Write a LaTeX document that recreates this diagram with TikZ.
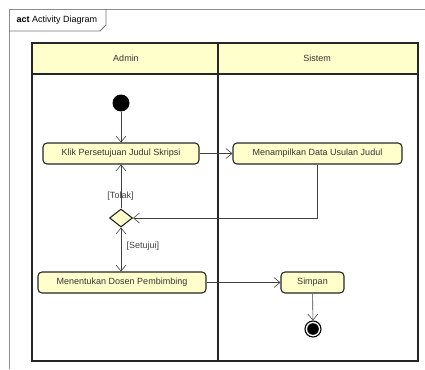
\documentclass[tikz,border=0pt]{standalone}
\usepackage{fontspec}
\setmainfont{Liberation Sans}
\usepackage{tikz}
\usetikzlibrary{arrows.meta,shapes.geometric,positioning}
\definecolor{umlyellow}{HTML}{FFFFCC}
\tikzset{
  action/.style   = {shape=rectangle, rounded corners=4pt,
                     draw=black!85, line width=1.1pt, fill=umlyellow,
                     minimum height=21pt, inner sep=0pt,
                     text=black!80, font=\fontsize{9}{10}\selectfont},
  decision/.style = {diamond, draw=black!85, line width=1.1pt, fill=umlyellow,
                     minimum width=23pt, minimum height=18pt, inner sep=0pt},
  initial/.style  = {circle, fill=black, minimum size=17pt, inner sep=0pt},
  final/.style    = {circle, draw=black, line width=1.1pt, fill=white,
                     minimum size=16pt, inner sep=0pt,
                     path picture={\fill[black] (path picture bounding box.center) circle (5.8pt);}},
  guard/.style    = {text=black!75, font=\fontsize{9}{10}\selectfont},
  lanehead/.style = {text=black!80, font=\fontsize{9}{10}\selectfont},
  flow/.style     = {draw=black!75, line width=0.6pt,
                     -{Straight Barb[length=6pt,width=10pt]}}
}

\begin{document}
\begin{tikzpicture}
  [
    x = 1pt,
    y = -1pt
  ]
  \useasboundingbox (0,0) rectangle (425,369);

  % frame
  \draw [black!45, line width=0.8pt] (9,369) -- (9,9) -- (425,9);
  \draw [black!55, line width=0.8pt] (9,31) -- (100,31) -- (106,25) -- (106,9);
  \node [anchor=west, font=\fontsize{9}{10}\selectfont] (title) at (13,20)
    {\textbf{act} Activity Diagram};

  % swimlanes
  \fill [umlyellow] (32,43) rectangle (418,74);
  \draw [line width=1.2pt, black!85] (32,43) rectangle (418,361);
  \draw [line width=1.2pt, black!85] (32,74) -- (418,74);
  \draw [line width=1.2pt, black!85] (218,43) -- (218,361);
  \node [lanehead] (admin) at (126,58.5) {Admin};
  \node [lanehead] (sistem) at (317,58.5) {Sistem};

  % nodes
  \node [initial] (start) at (121,103) {};
  \node [action, minimum width=156pt] (klik) at (121,153.5) {Klik Persetujuan Judul Skripsi};
  \node [action, minimum width=169pt] (tampil) at (317.5,153.5) {Menampilkan Data Usulan Judul};
  \node [decision] (cek) at (121,218) {};
  \node [action, minimum width=168pt] (tentukan) at (122,282.5) {Menentukan Dosen Pembimbing};
  \node [action, minimum width=63pt] (simpan) at (312.5,282.5) {Simpan};
  \node [final] (end) at (313,329) {};

  \path [flow]
    (start) edge (klik)
    (klik) edge (tampil)
    (cek) edge (klik)
    (cek.south) edge (cek.south |- tentukan.north)
    (tentukan) edge (simpan)
    (simpan) edge (end);
  \draw [flow] (tampil.south) |- (cek.east);

  \node [guard] (tolak) at (120.5,196) {[Tolak]};
  \node [guard, anchor=west] (setuju) at (123,246) {[Setujui]};

\end{tikzpicture}
\end{document}
